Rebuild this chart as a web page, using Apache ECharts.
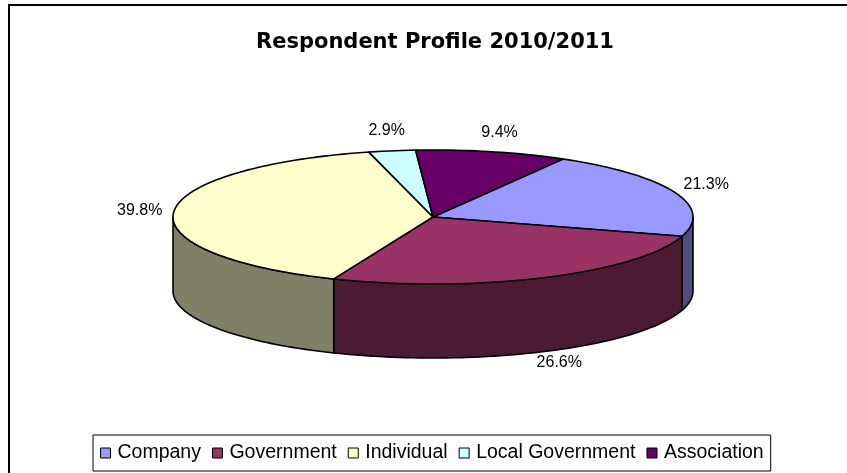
<!DOCTYPE html>
<html>
<head>
<meta charset="utf-8">
<script src="https://cdn.jsdelivr.net/npm/echarts@6/dist/echarts.min.js"></script>
<style>
  html, body { margin: 0; padding: 0; background: #ffffff; }
  #chart { width: 847px; height: 473px; }
</style>
</head>
<body>
<div id="chart"></div>
<script>
// Respondent categories and their shares (percent)
const categories = ['Company', 'Government', 'Individual', 'Local Government', 'Association'];
const shares = [21.3, 26.6, 39.8, 2.9, 9.4];
const topColors = ['#9999FF', '#993366', '#FFFFCC', '#CCFFFF', '#660066'];
const sideColors = ['#4D4D80', '#4D1A33', '#808066', '#668080', '#330033'];
const titleText = 'Respondent Profile 2010/2011';

// Tilted-disc geometry in pixels; angles run clockwise from 12 o'clock
const PIE = { cx: 433, cy: 217, rx: 260, ry: 67, depth: 74, startDeg: 30 };
const LABEL_GAP = { x: 34, y: 20 };
const total = shares.reduce((s, v) => s + v, 0);

function rimPoint(deg, dy) {
  const r = deg * Math.PI / 180;
  return [PIE.cx + PIE.rx * Math.sin(r), PIE.cy - PIE.ry * Math.cos(r) + (dy || 0)];
}

function rimArc(a, b, dy) {
  const pts = [];
  const n = Math.max(2, Math.ceil((b - a) / 1.5));
  for (let i = 0; i <= n; i++) pts.push(rimPoint(a + (b - a) * i / n, dy));
  return pts;
}

function sliceRenderer(idx) {
  return function (params, api) {
    const v = api.value(0);
    let before = 0;
    for (let i = 0; i < idx; i++) before += shares[i];
    const a = PIE.startDeg + before / total * 360;
    const b = a + v / total * 360;
    const children = [];

    // outer wall, only where the rim faces the viewer (90..270 deg)
    [0, 360, -360].forEach(function (off) {
      const s = Math.max(a, 90 + off);
      const e = Math.min(b, 270 + off);
      if (e > s) {
        const pts = rimArc(s, e, 0).concat(rimArc(s, e, PIE.depth).reverse());
        children.push({
          type: 'polygon',
          shape: { points: pts },
          style: { fill: sideColors[idx], stroke: '#000', lineWidth: 1.6, lineJoin: 'round' }
        });
      }
    });

    // top face
    children.push({
      type: 'polygon',
      shape: { points: [[PIE.cx, PIE.cy]].concat(rimArc(a, b, 0)) },
      style: { fill: topColors[idx], stroke: '#000', lineWidth: 1.6, lineJoin: 'round' }
    });

    // percentage label outside the rim
    const mid = (a + b) / 2 * Math.PI / 180;
    const sn = Math.sin(mid), cs = Math.cos(mid);
    const lx = PIE.cx + (PIE.rx + LABEL_GAP.x) * sn;
    let ly = PIE.cy - (PIE.ry + LABEL_GAP.y) * cs;
    if (cs < 0) ly += -cs * PIE.depth;
    children.push({
      type: 'text',
      x: lx,
      y: ly,
      style: {
        text: v.toFixed(1) + '%',
        fill: '#000',
        font: '16px "Liberation Sans", Arial, sans-serif',
        align: 'center',
        verticalAlign: 'middle'
      }
    });

    return { type: 'group', children: children };
  };
}

const chart = echarts.init(document.getElementById('chart'), null, { renderer: 'canvas' });

chart.setOption({
  animation: false,
  backgroundColor: '#ffffff',
  title: {
    text: titleText,
    left: 430,
    textAlign: 'center',
    top: 27,
    textStyle: {
      fontFamily: '"DejaVu Sans", sans-serif',
      fontWeight: 'bold',
      fontSize: 21,
      color: '#000'
    }
  },
  legend: {
    data: categories,
    selectedMode: false,
    left: 93,
    top: 435,
    icon: 'rect',
    itemWidth: 10,
    itemHeight: 10,
    itemGap: 11,
    padding: [8, 7, 8, 7],
    borderColor: '#000',
    borderWidth: 1,
    itemStyle: { borderColor: '#000', borderWidth: 1 },
    textStyle: {
      fontFamily: '"Liberation Sans", Arial, sans-serif',
      fontSize: 19.5,
      color: '#000',
      padding: [0, 0, 0, 2]
    }
  },
  graphic: [{
    type: 'rect',
    silent: true,
    shape: { x: 9, y: 5, width: 900, height: 600 },
    style: { fill: 'none', stroke: '#000', lineWidth: 2 }
  }],
  series: categories.map(function (name, idx) {
    return {
      type: 'custom',
      name: name,
      coordinateSystem: 'none',
      silent: true,
      itemStyle: { color: topColors[idx] },
      data: [[shares[idx]]],
      renderItem: sliceRenderer(idx)
    };
  })
});
</script>
</body>
</html>
